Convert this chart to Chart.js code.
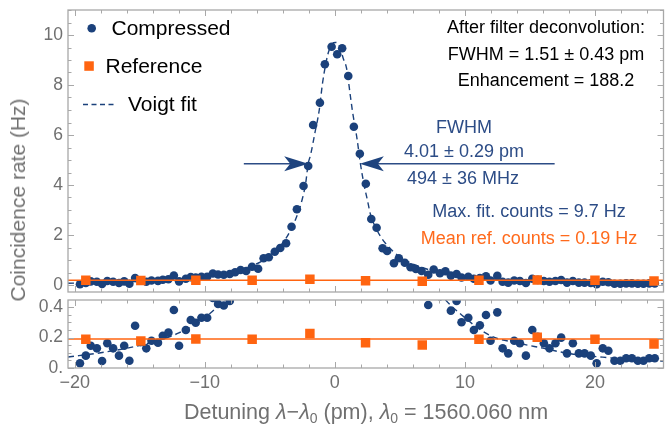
<!DOCTYPE html>
<html><head><meta charset="utf-8">
<script src="https://cdn.jsdelivr.net/npm/chart.js@4.4.1/dist/chart.umd.min.js"></script>
<style>
html,body{margin:0;padding:0;background:#fff;}
#wrap{position:relative;width:665px;height:426px;overflow:hidden;font-family:"Liberation Sans",Arial,sans-serif;}
#c1{position:absolute;left:0;top:0;}
#c2{position:absolute;left:0;top:296px;}
.lbl{position:absolute;white-space:nowrap;color:#707070;}
#xt{left:366px;top:412px;transform:translate(-50%,-50%);font-size:21.5px;}
#xt sub{font-size:14px;vertical-align:-4px;line-height:0;}
#yt{left:18px;top:200px;transform:translate(-50%,-50%) rotate(-90deg);font-size:21px;}
</style></head>
<body><div id="wrap">
<canvas id="c1" width="665" height="296"></canvas>
<canvas id="c2" width="665" height="130"></canvas>
<div class="lbl" id="xt">Detuning <i>λ</i>−<i>λ</i><sub>0</sub> (pm), <i>λ</i><sub>0</sub> = 1560.060 nm</div>
<div class="lbl" id="yt">Coincidence rate (Hz)</div>
</div>
<script>
// ---------- data ----------
const compX = [-19.6,-19.15,-18.77,-18.3,-17.9,-17.5,-17.05,-16.6,-16.2,-15.8,-15.36,-14.93,-14.5,-14.1,-13.6,-13.23,-12.8,-12.38,-11.98,-11.46,-11.08,-10.7,-10.26,-9.82,-9.38,-8.98,-8.54,-8.08,-7.67,-7.25,-6.82,-6.37,-5.9,-5.48,-5.08,-4.62,-4.2,-3.75,-3.33,-2.92,-2.41,-2.05,-1.67,-1.15,-0.77,-0.25,0.18,0.56,1.03,1.46,1.92,2.38,2.8,3.21,3.67,4.02,4.54,4.92,5.38,5.82,6.23,6.67,7.18,7.6,8.08,8.5,8.92,9.36,9.74,10.26,10.69,11.15,11.62,11.97,12.49,12.9,13.33,13.79,14.23,14.69,15.18,15.6,16.07,16.5,16.96,17.4,17.85,18.3,18.76,19.2,19.68,20.13,20.6,21.03,21.5,21.95,22.4,22.84,23.3,23.73,24.17,24.6];
const compY = [0.031,0.081,0.146,0.129,0.046,0.162,0.129,0.081,0.146,0.048,0.277,0.17,0.129,0.179,0.166,0.212,0.232,0.38,0.146,0.249,0.315,0.297,0.33,0.33,0.46,0.42,0.41,0.44,0.51,0.6,0.56,0.73,0.65,1.07,1.11,1.33,1.48,1.67,2.33,3.03,3.96,4.76,6.4,7.29,8.83,9.53,9.23,9.47,8.36,6.33,5.25,4.05,2.64,2.29,1.47,1.36,0.87,1.07,0.89,0.71,0.64,0.56,0.413,0.62,0.47,0.55,0.376,0.44,0.30,0.33,0.249,0.28,0.348,0.179,0.365,0.129,0.096,0.179,0.162,0.081,0.249,0.205,0.162,0.129,0.162,0.199,0.096,0.162,0.096,0.096,0.081,0.031,0.129,0.113,0.048,0.048,0.064,0.064,0.048,0.048,0.064,0.064];
const refX = [-19.15,-14.92,-10.69,-6.36,-1.92,2.36,6.72,11.08,15.56,20.0,24.54];
const refY = [0.188,0.177,0.19,0.188,0.227,0.166,0.151,0.188,0.201,0.188,0.157];
const meanRef = 0.19;
const fitX = [-20.52,-18,-16,-14,-12,-10,-8,-7,-6,-5,-4,-3.5,-3,-2.5,-2.25,-2.05,-1.87,-1.54,-1.2,-0.95,-0.64,-0.44,-0.2,0.05,0.33,0.64,0.9,1.2,1.36,1.72,1.95,2.25,2.5,2.75,3,3.5,4,5,6,7,8,10,12,14,16,18,21,24,25.27];
const fitY = [0.072,0.1,0.13,0.17,0.23,0.33,0.5,0.64,0.85,1.15,1.68,2.1,2.65,3.45,4.05,4.85,5.2,6.07,7.0,8.07,9.0,9.4,9.65,9.7,9.6,9.07,8.67,7.53,6.93,5.8,4.9,4.0,3.4,2.8,2.45,1.95,1.6,1.12,0.84,0.65,0.5,0.33,0.21,0.165,0.13,0.095,0.068,0.05,0.045];
const xTicks = [-20,-10,0,10,20];
const yTopTicks = [0,2,4,6,8,10];
const yBotTicks = [0,0.2,0.4];
const fwhmLeft = -2.05, fwhmRight = 1.92, halfMax = 4.85;
const legendLabels = ['Compressed','Reference','Voigt fit'];

// ---------- styles ----------
const BLUE = '#1b417b', ORANGE = '#ff6410', FRAME = '#a8a8a8', TICKTXT = '#707070';
const TXTBLUE = '#2c4c86', TXTORANGE = '#ff6a1c';
const FONT = '"Liberation Sans", Arial, sans-serif';
const X_MIN = -20.52, X_MAX = 25.27;

const pts = (xs, ys) => xs.map((x, i) => ({x, y: ys[i]}));

function datasets(clip) {
  return [
    {label: legendLabels[1], data: pts(refX, refY), showLine: false, pointStyle: 'rect', pointRadius: 6.7,
     backgroundColor: ORANGE, borderWidth: 0, pointBorderWidth: 0, clip},
    {label: 'mean', data: [{x: X_MIN, y: meanRef}, {x: X_MAX, y: meanRef}], showLine: true, pointRadius: 0,
     borderColor: ORANGE, borderWidth: 1.6, clip},
    {label: legendLabels[2], data: pts(fitX, fitY), showLine: true, pointRadius: 0, borderColor: BLUE,
     borderWidth: 1.4, borderDash: [6, 4], cubicInterpolationMode: 'monotone', clip},
    {label: legendLabels[0], data: pts(compX, compY), showLine: false, pointStyle: 'circle', pointRadius: 4.3,
     backgroundColor: BLUE, borderWidth: 0, pointBorderWidth: 0, clip}
  ];
}

const framePlugin = {
  id: 'frame',
  afterDatasetsDraw(chart, args, o) {
    const {ctx, chartArea: a, scales} = chart;
    const xs = scales.x, ys = scales.y;
    ctx.save();
    ctx.strokeStyle = FRAME; ctx.lineWidth = 1.3;
    ctx.strokeRect(a.left, a.top, a.right - a.left, a.bottom - a.top);
    ctx.lineWidth = 1;
    const tick = (scale, step, major, horiz) => {
      for (let i = Math.ceil(scale.min / step - 1e-9); i * step <= scale.max + 1e-9; i++) {
        const v = i * step;
        const isMaj = Math.abs(v / major - Math.round(v / major)) < 1e-6;
        const len = isMaj ? 6 : 3.5;
        const p = Math.round(scale.getPixelForValue(v)) + 0.5;
        ctx.beginPath();
        if (horiz) {
          ctx.moveTo(p, a.bottom); ctx.lineTo(p, a.bottom - len);
          ctx.moveTo(p, a.top); ctx.lineTo(p, a.top + len);
        } else {
          ctx.moveTo(a.left, p); ctx.lineTo(a.left + len, p);
          ctx.moveTo(a.right, p); ctx.lineTo(a.right - len, p);
        }
        ctx.stroke();
      }
    };
    tick(xs, 2, 10, true);
    tick(ys, o.yMinor, o.yMajor, false);
    ctx.restore();
  }
};

const notesPlugin = {
  id: 'notes',
  afterDraw(chart) {
    const {ctx, scales} = chart;
    const xs = scales.x, ys = scales.y;
    ctx.save();
    // legend
    ctx.textBaseline = 'middle'; ctx.textAlign = 'left';
    ctx.font = '21px ' + FONT; ctx.fillStyle = '#000';
    ctx.fillStyle = BLUE; ctx.beginPath(); ctx.arc(91.7, 28.3, 4.3, 0, Math.PI * 2); ctx.fill();
    ctx.fillStyle = '#000'; ctx.fillText(legendLabels[0], 111.5, 29);
    ctx.fillStyle = ORANGE; ctx.fillRect(84.3, 61.3, 9.5, 9.5);
    ctx.fillStyle = '#000'; ctx.fillText(legendLabels[1], 105.5, 67);
    ctx.strokeStyle = BLUE; ctx.lineWidth = 1.4; ctx.setLineDash([5, 3.5]);
    ctx.beginPath(); ctx.moveTo(83, 104.5); ctx.lineTo(116, 104.5); ctx.stroke(); ctx.setLineDash([]);
    ctx.fillText(legendLabels[2], 128, 105);
    // deconvolution block
    ctx.textAlign = 'center'; ctx.font = '18px ' + FONT; ctx.fillStyle = '#000';
    ctx.fillText('After filter deconvolution:', 546, 28.5);
    ctx.fillText('FWHM = 1.51 \u00b1 0.43 pm', 546, 55);
    ctx.fillText('Enhancement = 188.2', 546, 81.5);
    // FWHM annotation
    ctx.fillStyle = TXTBLUE;
    ctx.fillText('FWHM', 464, 128.5);
    ctx.fillText('4.01 \u00b1 0.29 pm', 464, 152);
    ctx.fillText('494 \u00b1 36 MHz', 463, 179.5);
    ctx.fillText('Max. fit. counts = 9.7 Hz', 529, 212.5);
    ctx.fillStyle = TXTORANGE;
    ctx.fillText('Mean ref. counts = 0.19 Hz', 529, 239.5);
    // arrows
    const yA = ys.getPixelForValue(halfMax);
    const arrow = (xTail, xTip) => {
      const t = xs.getPixelForValue(xTip), s = xs.getPixelForValue(xTail);
      const d = Math.sign(t - s);
      ctx.strokeStyle = TXTBLUE; ctx.fillStyle = '#1e437e'; ctx.lineWidth = 1.3;
      ctx.beginPath(); ctx.moveTo(s, yA); ctx.lineTo(t - d * 12, yA); ctx.stroke();
      ctx.beginPath();
      ctx.moveTo(t, yA); ctx.lineTo(t - d * 24, yA - 7.5); ctx.lineTo(t - d * 18, yA); ctx.lineTo(t - d * 24, yA + 7.5);
      ctx.closePath(); ctx.fill();
    };
    arrow(-7.0, fwhmLeft);
    arrow(16.9, fwhmRight);
    ctx.restore();
  }
};

const noPad = s => { s.paddingLeft = 0; s.paddingRight = 0; s.paddingTop = 0; s.paddingBottom = 0; };

function common(yMin, yMax, yTicks, fmt, showX) {
  return {
    responsive: false, animation: false, events: [],
    plugins: {legend: {display: false}, tooltip: {enabled: false}},
    scales: {
      x: {type: 'linear', min: X_MIN, max: X_MAX, display: true,
          grid: {display: false, drawTicks: false}, border: {display: false},
          afterBuildTicks: s => { s.ticks = xTicks.map(v => ({value: v})); },
          afterFit: s => { s.height = showX ? 58 : 0; noPad(s); },
          ticks: {display: showX, padding: 4, color: TICKTXT, font: {family: FONT, size: 18},
                  maxRotation: 0, autoSkip: false,
                  callback: v => (v < 0 ? '\u2212' + Math.abs(v) : String(v))}},
      y: {type: 'linear', min: yMin, max: yMax,
          grid: {display: false, drawTicks: false}, border: {display: false},
          afterBuildTicks: s => { s.ticks = yTicks.map(v => ({value: v})); },
          afterFit: s => { s.width = 68; noPad(s); },
          ticks: {padding: 5, color: TICKTXT, font: {family: FONT, size: 17.5}, callback: fmt}}
    }
  };
}

const opt1 = common(-0.28, 11.0, yTopTicks, v => String(v), false);
opt1.layout = {autoPadding: false, padding: {top: 10, right: 1.5, bottom: 4, left: 0}};
opt1.plugins.frame = {yMinor: 0.5, yMajor: 2};
new Chart(document.getElementById('c1'), {
  type: 'scatter', data: {datasets: datasets(2)}, options: opt1, plugins: [framePlugin, notesPlugin]
});

const opt2 = common(0, 0.446, yBotTicks, v => (v === 0 ? '0.' : v.toFixed(1)), true);
opt2.layout = {autoPadding: false, padding: {top: 4, right: 1.5, bottom: 0, left: 0}};
opt2.plugins.frame = {yMinor: 0.05, yMajor: 0.2};
new Chart(document.getElementById('c2'), {
  type: 'scatter', data: {datasets: datasets(0)}, options: opt2, plugins: [framePlugin]
});
</script>
</body></html>
